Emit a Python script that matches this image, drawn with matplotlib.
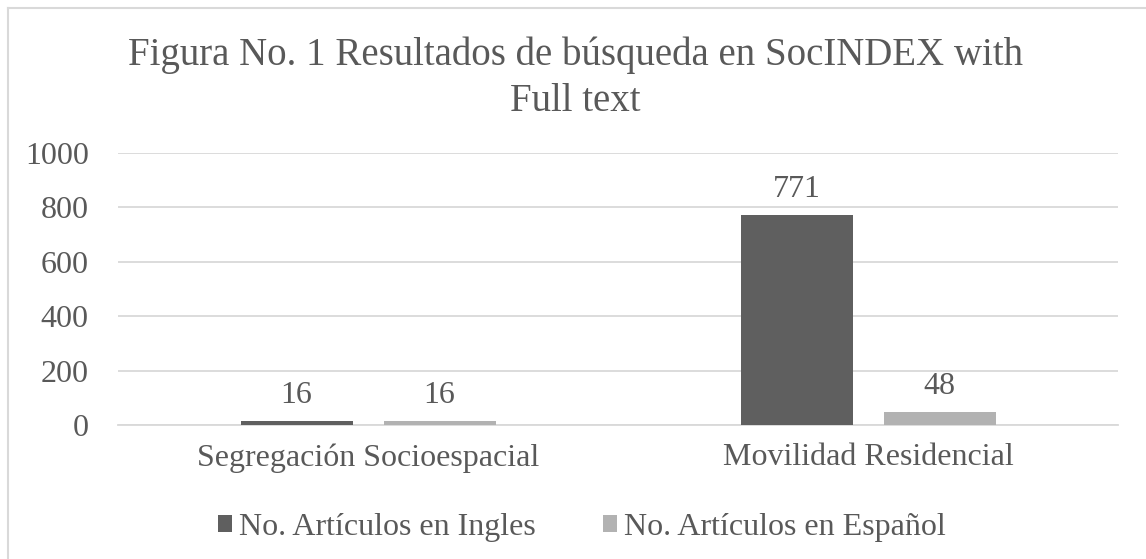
import numpy as np
import matplotlib.pyplot as plt
from matplotlib.lines import Line2D

# data
categories = ['Segregación Socioespacial', 'Movilidad Residencial']
ingles = [16, 771]
espanol = [16, 48]
series_names = ['No. Artículos en Ingles', 'No. Artículos en Español']
yticks = [0, 200, 400, 600, 800, 1000]
title_lines = ['Figura No. 1 Resultados de búsqueda en SocINDEX with', 'Full text']

plt.rcParams['font.family'] = ['Liberation Serif', 'DejaVu Serif']
txt = '#595959'
dark = '#5f5f5f'
light = '#b2b2b2'
grid = '#d9d9d9'
W, H = 1146, 559

fig = plt.figure(figsize=(W / 100, H / 100), dpi=100)
ax = fig.add_axes([118 / W, 1 - 425 / H, 1000 / W, 272 / H])

x = np.arange(len(categories))
w = 0.224
b1 = ax.bar(x - 0.143, ingles, w, color=dark, label=series_names[0], zorder=3)
b2 = ax.bar(x + 0.143, espanol, w, color=light, label=series_names[1], zorder=3)

# value labels
for bars, vals in [(b1, ingles), (b2, espanol)]:
    for r, v in zip(bars, vals):
        ax.annotate(str(v), (r.get_x() + r.get_width() / 2, v), xytext=(0, 13),
                    textcoords='offset points', ha='center', va='baseline',
                    fontsize=23, color=txt)

ax.set_xlim(-0.5, 1.5)
ax.set_ylim(0, 1000)
ax.set_yticks(yticks)
ax.set_yticklabels([str(t) for t in yticks], fontsize=23, color=txt)
ax.set_xticks(x)
ax.set_xticklabels(categories, fontsize=23, color=txt)
ax.tick_params(axis='both', length=0)
ax.tick_params(axis='y', pad=21)
ax.tick_params(axis='x', pad=13)
ax.yaxis.grid(True, color=grid, linewidth=1.3, zorder=0)
for s in ['top', 'right', 'left']:
    ax.spines[s].set_visible(False)
ax.spines['bottom'].set_color(grid)
ax.spines['bottom'].set_linewidth(1.3)

# title, two lines
fig.text(0.502, 1 - 65 / H, title_lines[0], ha='center', va='baseline',
         fontsize=28, color=txt)
fig.text(0.502, 1 - 111 / H, title_lines[1], ha='center', va='baseline',
         fontsize=28, color=txt)

leg = fig.legend(handles=[b1, b2], loc='center', bbox_to_anchor=(582 / W, 1 - 527 / H),
                 ncol=2, frameon=False, fontsize=23, handlelength=0.45,
                 handleheight=0.45, handletextpad=0.22, columnspacing=2.1,
                 borderpad=0)
for t in leg.get_texts():
    t.set_color(txt)

# chart border
fig.add_artist(Line2D([8 / W, 8 / W], [0, 1 - 8 / H], color=grid, lw=1.5))
fig.add_artist(Line2D([8 / W, 1], [1 - 8 / H, 1 - 8 / H], color=grid, lw=1.5))

fig.savefig('out.png', dpi=100)
